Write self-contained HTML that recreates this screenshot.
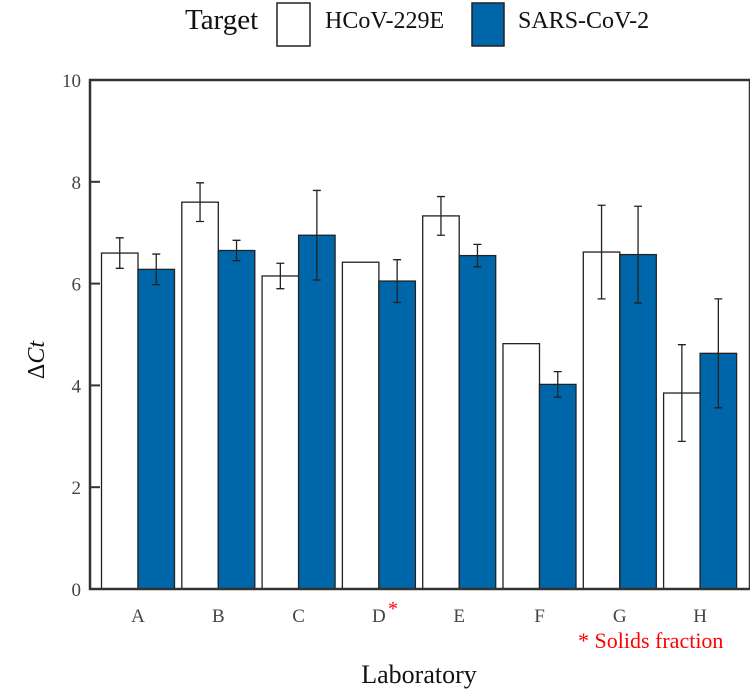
<!DOCTYPE html>
<html><head><meta charset="utf-8"><style>
body{margin:0;background:#fff;width:750px;height:691px;overflow:hidden}
svg text{font-family:"Liberation Serif",serif}
</style></head><body>
<svg width="750" height="691" id="chart">
<g>
<text x="185" y="29" font-size="29" fill="#111">Target</text>
<rect x="277" y="3" width="33" height="43" fill="#fff" stroke="#222" stroke-width="1.5"/>
<text x="325" y="28" font-size="24" fill="#111">HCoV-229E</text>
<rect x="472" y="3" width="32" height="43" fill="#0066aa" stroke="#222" stroke-width="1.5"/>
<text x="518" y="28" font-size="24" fill="#111">SARS-CoV-2</text>
</g>
<g id="bars"></g>
<rect x="90" y="80" width="660" height="509" fill="none" stroke="#333" stroke-width="2.5"/>
<g id="yticks"></g><g id="xticks"></g>
<text x="388" y="615" font-size="20" fill="red">*</text>
<text transform="translate(44,360) rotate(-90)" font-size="24" fill="#111" text-anchor="middle">Δ<tspan font-style="italic">Ct</tspan></text>
<text x="419" y="683" font-size="26" fill="#111" text-anchor="middle">Laboratory</text>
<text x="578" y="648" font-size="22" fill="red">* Solids fraction</text>
</svg>
<script>
const categories=["A","B","C","D","E","F","G","H"];
const hcovValues=[6.6,7.6,6.15,6.42,7.33,4.82,6.62,3.85];
const hcovErrors=[0.3,0.38,0.25,0,0.38,0,0.92,0.95];
const sarsValues=[6.28,6.65,6.95,6.05,6.55,4.02,6.57,4.63];
const sarsErrors=[0.3,0.2,0.88,0.42,0.22,0.25,0.95,1.07];
const yTicks=[0,2,4,6,8,10];
const NS="http://www.w3.org/2000/svg";
const y=v=>589-v*50.9;
const xc=i=>138+i*80.3;
const bw=36.5;
const bars=document.getElementById('bars');
function mk(tag,attrs,parent){const e=document.createElementNS(NS,tag);for(const k in attrs)e.setAttribute(k,attrs[k]);parent.appendChild(e);return e;}
categories.forEach((c,i)=>{
  [[hcovValues,hcovErrors,'#fff',-bw,'hcov'],[sarsValues,sarsErrors,'#0066aa',0,'sars']].forEach(([vals,errs,fill,off,nm])=>{
    const x0=xc(i)+off;
    const r=mk('rect',{x:x0,y:y(vals[i]),width:bw,height:589-y(vals[i]),fill:fill,stroke:'#222','stroke-width':1.3},bars);
    
    
    if(errs[i]>0){
      const cx=x0+bw/2;
      const e=mk('path',{d:`M${cx},${y(vals[i]+errs[i])}V${y(vals[i]-errs[i])}M${cx-4},${y(vals[i]+errs[i])}h8M${cx-4},${y(vals[i]-errs[i])}h8`,stroke:'#222','stroke-width':1.3,fill:'none'},bars);
      
      
    }
  });
  const t=mk('text',{x:xc(i),y:622,'font-size':19,fill:'#444','text-anchor':'middle'},document.getElementById('xticks'));
  t.textContent=c;
  
  
});
yTicks.forEach(v=>{
  const g=document.getElementById('yticks');
  const l=mk('line',{x1:90,x2:100,y1:y(v),y2:y(v),stroke:'#333','stroke-width':2},g);
  
  
  const t=mk('text',{x:81,y:y(v)+7,'font-size':19,fill:'#444','text-anchor':'end'},g);
  t.textContent=v;
  
  
});
</script>
</body></html>
